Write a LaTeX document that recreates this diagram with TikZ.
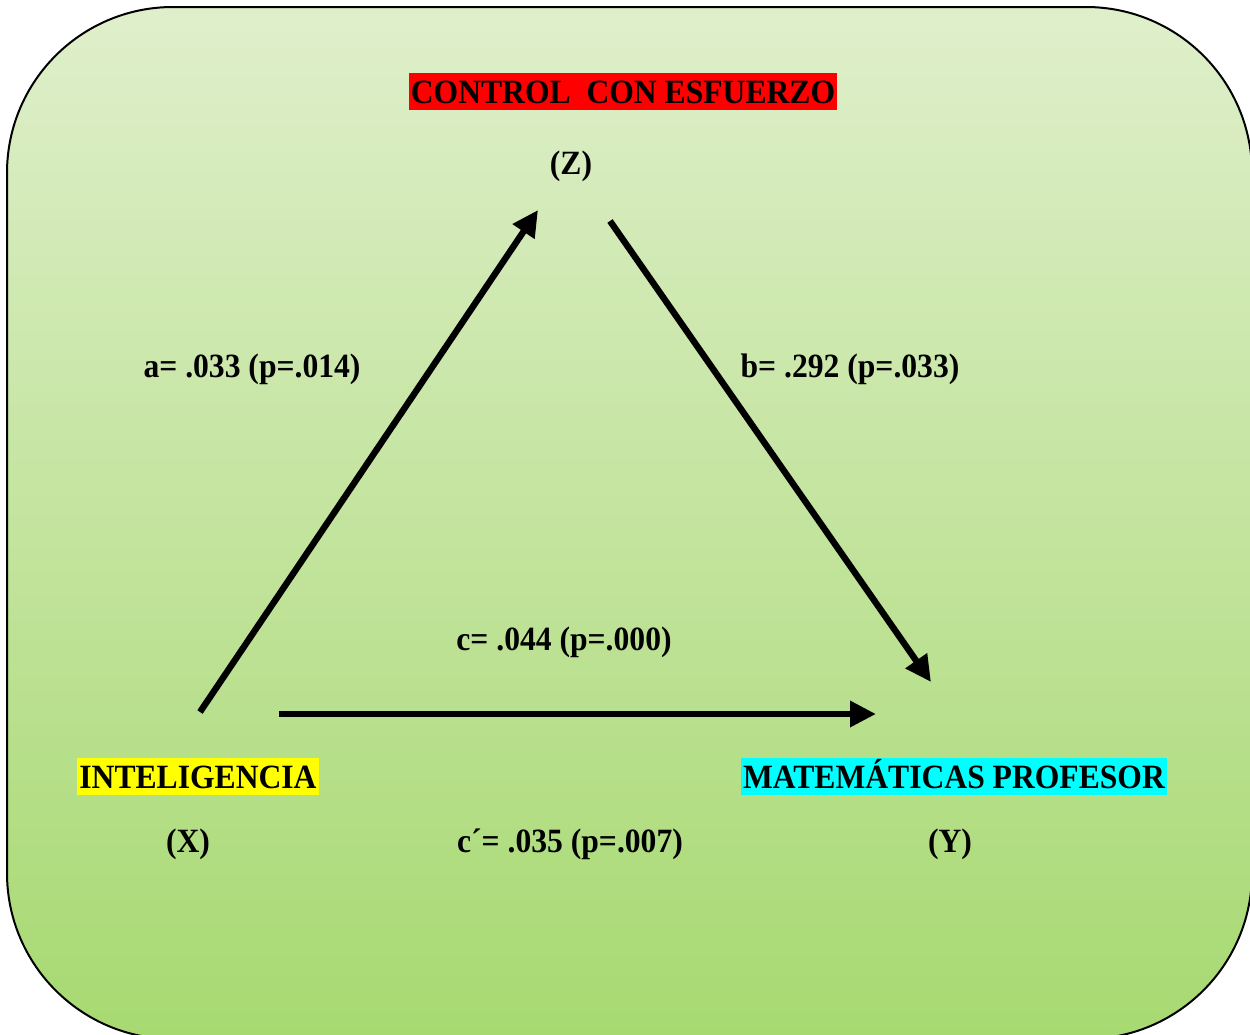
\documentclass[tikz,border=0pt]{standalone}
\usepackage{fontspec}
\setmainfont{Liberation Serif}[FakeStretch=0.93]
\usepackage{tikz}
\usetikzlibrary{arrows.meta}
\usepackage{xcolor}
\definecolor{bgtop}{RGB}{223,239,203}
\definecolor{bgbottom}{RGB}{167,217,113}
\definecolor{tagred}{RGB}{255,0,0}
\definecolor{tagyellow}{RGB}{255,255,0}
\definecolor{tagcyan}{RGB}{0,255,255}

\begin{document}
\begin{tikzpicture}[x=0.5pt, y=-0.5pt,
  lbl/.style={font=\fontsize{17}{20}\selectfont\bfseries, anchor=base, inner sep=0pt},
  tag/.style={lbl, text height=15pt, text depth=3.5pt, inner xsep=1pt},
  link/.style={line width=3.2pt, -{Triangle[length=13pt, width=12.5pt]}}]
  \clip (0,0) rectangle (1250,1035);
  \draw[line width=1pt, top color=bgtop, bottom color=bgbottom, rounded corners=83pt] (7,7) rectangle (1252,1039);
  \node[tag, fill=tagred] (ctrl) at (623,103) {CONTROL\ \ CON ESFUERZO};
  \node[lbl] (z) at (571,174) {(Z)};
  \node[lbl] (a) at (252,377) {a= .033 (p=.014)};
  \node[lbl] (b) at (850,377) {b= .292 (p=.033)};
  \node[lbl] (c) at (564,650) {c= .044 (p=.000)};
  \node[tag, fill=tagyellow] (intel) at (198,788) {INTELIGENCIA};
  \node[tag, fill=tagcyan] (mat) at (954,788) {MATEMÁTICAS PROFESOR};
  \node[lbl] (x) at (188,852) {(X)};
  \node[lbl] (cp) at (570,852) {c´= .035 (p=.007)};
  \node[lbl] (y) at (950,852) {(Y)};
  \coordinate (xa) at (200,712);
  \coordinate (za) at (538,210);
  \coordinate (zb) at (610,221);
  \coordinate (yb) at (931,682);
  \coordinate (xc) at (279,714);
  \coordinate (yc) at (876,714);
  \draw[link] (xa) -- (za);
  \draw[link] (zb) -- (yb);
  \draw[link] (xc) -- (yc);
\end{tikzpicture}
\end{document}
